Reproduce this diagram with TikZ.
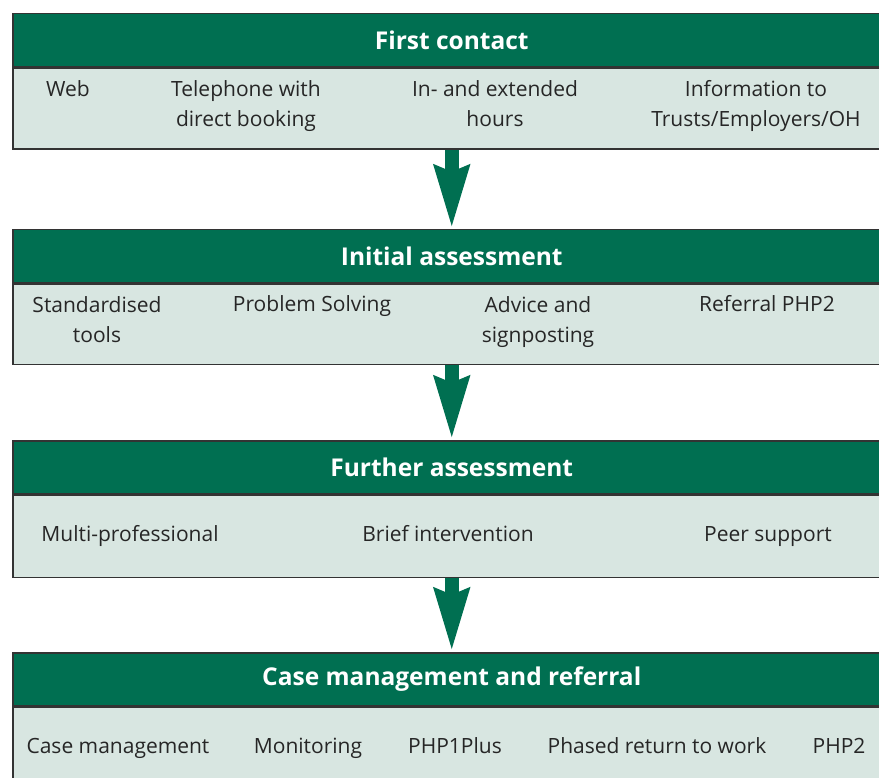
\documentclass[tikz,border=0pt]{standalone}
\usepackage{fontspec}
\setmainfont{Open Sans}
\usetikzlibrary{arrows.meta,positioning}
\definecolor{phpgreen}{HTML}{006F51}
\definecolor{phppale}{HTML}{D8E6E1}
\definecolor{phpedge}{HTML}{333333}
\tikzset{
  hdrnode/.style={draw=phpedge,line width=1.5pt,fill=phpgreen,text=white,
    font=\fontsize{24.5}{28}\selectfont\bfseries,minimum width=878pt,
    minimum height=53pt,inner sep=0pt,anchor=north west},
  bodynode/.style={draw=phpedge,line width=1.5pt,fill=phppale,
    minimum width=878pt,inner sep=0pt,anchor=north west},
  itemtxt/.style={font=\fontsize{21}{30}\selectfont,align=center,
    text=black!85,inner sep=0pt,anchor=base},
  flowarrow/.style={-{Stealth[width=33pt,length=62pt,inset=5pt]},
    line width=14pt,phpgreen},
}

\begin{document}
\begin{tikzpicture}[x=1pt,y=-1pt]
  \useasboundingbox (0,0) rectangle (879,778);
  % the four stages
  \node[hdrnode] (hFirst) at (12,13) {First contact};
  \node[bodynode,minimum height=81pt] (bFirst) at (hFirst.south west) {};
  \node[hdrnode] (hInit) at (12,229) {Initial assessment};
  \node[bodynode,minimum height=80pt] (bInit) at (hInit.south west) {};
  \node[hdrnode] (hFurth) at (12,440) {Further assessment};
  \node[bodynode,minimum height=82pt] (bFurth) at (hFurth.south west) {};
  \node[hdrnode] (hCase) at (12,652) {Case management and referral};
  \node[bodynode,minimum height=82pt] (bCase) at (hCase.south west) {};
  % items (base is the last line)
  \node[itemtxt] (iWeb) at (68,97) {Web};
  \node[itemtxt] (iPhone) at (246,127) {Telephone with\\direct booking};
  \node[itemtxt] (iHours) at (495,127) {In- and extended\\hours};
  \node[itemtxt] (iInfo) at (756,127) {Information to\\Trusts/Employers/OH};
  \node[itemtxt] (iTools) at (97,342) {Standardised\\tools};
  \node[itemtxt] (iSolve) at (312,312) {Problem Solving};
  \node[itemtxt] (iAdvice) at (538,342) {Advice and\\signposting};
  \node[itemtxt] (iRefer) at (767,312) {Referral PHP2};
  \node[itemtxt] (iMulti) at (130,541) {Multi-professional};
  \node[itemtxt] (iBrief) at (448,541) {Brief intervention};
  \node[itemtxt] (iPeer) at (768,541) {Peer support};
  \node[itemtxt] (iCase) at (118,753) {Case management};
  \node[itemtxt] (iMon) at (308,753) {Monitoring};
  \node[itemtxt] (iPlus) at (455,753) {PHP1Plus};
  \node[itemtxt] (iPhased) at (657,753) {Phased return to work};
  \node[itemtxt] (iPhp) at (839,753) {PHP2};
  % arrows between stages
  \draw[flowarrow] (bFirst.south) -- (hInit.north);
  \draw[flowarrow] (bInit.south) -- (hFurth.north);
  \draw[flowarrow] (bFurth.south) -- (hCase.north);
\end{tikzpicture}
\end{document}
